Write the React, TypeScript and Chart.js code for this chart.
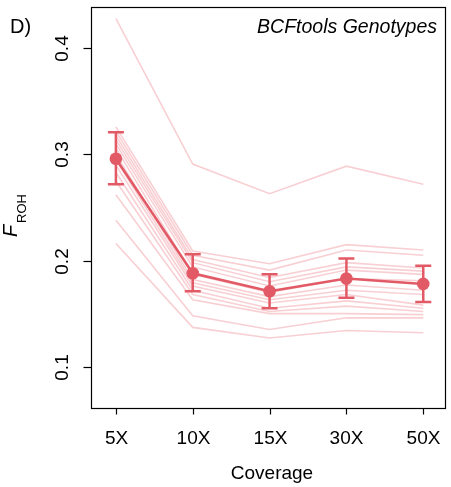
import React, { useEffect, useRef } from "react";
import { Chart, registerables } from "chart.js";

Chart.register(...registerables);

const coverageLabels = ["5X", "10X", "15X", "30X", "50X"];
const yTickValues = [0.1, 0.2, 0.3, 0.4];

const meanFroh = [0.296, 0.188, 0.171, 0.183, 0.178];
const errLower = [0.272, 0.171, 0.155, 0.165, 0.161];
const errUpper = [0.321, 0.206, 0.187, 0.202, 0.195];

const ind01 = [0.428, 0.291, 0.263, 0.289, 0.272];
const ind02 = [0.326, 0.209, 0.197, 0.215, 0.21];
const ind03 = [0.322, 0.205, 0.191, 0.21, 0.205];
const ind04 = [0.318, 0.201, 0.184, 0.198, 0.193];
const ind05 = [0.314, 0.198, 0.18, 0.194, 0.19];
const ind06 = [0.31, 0.194, 0.176, 0.191, 0.187];
const ind07 = [0.306, 0.187, 0.17, 0.183, 0.181];
const ind08 = [0.3, 0.182, 0.166, 0.177, 0.172];
const ind09 = [0.295, 0.179, 0.163, 0.172, 0.168];
const ind10 = [0.29, 0.176, 0.16, 0.168, 0.158];
const ind11 = [0.283, 0.172, 0.155, 0.162, 0.155];
const ind12 = [0.275, 0.168, 0.152, 0.157, 0.152];
const ind13 = [0.262, 0.163, 0.15, 0.15, 0.149];
const ind14 = [0.238, 0.148, 0.135, 0.146, 0.146];
const ind15 = [0.216, 0.137, 0.127, 0.134, 0.132];

const individuals = [ind01, ind02, ind03, ind04, ind05, ind06, ind07, ind08, ind09, ind10, ind11, ind12, ind13, ind14, ind15];

const MAIN = "#E25A66";
const THIN = "rgba(236, 128, 140, 0.38)";
const FONT = "'Liberation Sans', Arial, Helvetica, sans-serif";

const decor = {
  id: "decor",
  afterDatasetsDraw(chart: any) {
    const { ctx, scales } = chart;
    const xs = scales.x;
    const ys = scales.y;
    ctx.save();
    ctx.strokeStyle = MAIN;
    ctx.lineWidth = 2.5;
    for (let i = 0; i < meanFroh.length; i++) {
      const px = xs.getPixelForValue(i);
      const lo = ys.getPixelForValue(errLower[i]);
      const hi = ys.getPixelForValue(errUpper[i]);
      ctx.beginPath();
      ctx.moveTo(px, lo);
      ctx.lineTo(px, hi);
      ctx.moveTo(px - 8, lo);
      ctx.lineTo(px + 8, lo);
      ctx.moveTo(px - 8, hi);
      ctx.lineTo(px + 8, hi);
      ctx.stroke();
    }
    ctx.restore();
  },
  afterDraw(chart: any) {
    const { ctx, chartArea, scales } = chart;
    const xs = scales.x;
    const ys = scales.y;
    ctx.save();
    // box
    ctx.strokeStyle = "#000";
    ctx.lineWidth = 1.2;
    ctx.strokeRect(
      Math.round(chartArea.left) + 0.5,
      Math.round(chartArea.top) + 0.5,
      Math.round(chartArea.right - chartArea.left),
      Math.round(chartArea.bottom - chartArea.top)
    );
    const bottom = Math.round(chartArea.bottom) + 0.5;
    const left = Math.round(chartArea.left) + 0.5;
    // x ticks and labels
    ctx.fillStyle = "#000";
    ctx.font = `19px ${FONT}`;
    ctx.textAlign = "center";
    ctx.textBaseline = "alphabetic";
    coverageLabels.forEach((lab, i) => {
      const px = Math.round(xs.getPixelForValue(i)) + 0.5;
      ctx.beginPath();
      ctx.moveTo(px, bottom);
      ctx.lineTo(px, bottom + 6);
      ctx.stroke();
      ctx.fillText(lab, px, 444);
    });
    // y ticks and labels
    yTickValues.forEach((v) => {
      const py = Math.round(ys.getPixelForValue(v)) + 0.5;
      ctx.beginPath();
      ctx.moveTo(left, py);
      ctx.lineTo(left - 8, py);
      ctx.stroke();
      ctx.save();
      ctx.translate(68, py);
      ctx.rotate(-Math.PI / 2);
      ctx.textAlign = "center";
      ctx.fillText(v.toFixed(1), 0, 0);
      ctx.restore();
    });
    // x title
    ctx.textAlign = "center";
    ctx.font = `19px ${FONT}`;
    ctx.fillText("Coverage", 272, 479);
    // y title F_ROH
    ctx.save();
    ctx.translate(17, 237);
    ctx.rotate(-Math.PI / 2);
    ctx.textAlign = "left";
    ctx.font = `italic 20px ${FONT}`;
    ctx.fillText("F", 0, 0);
    ctx.font = `13px ${FONT}`;
    ctx.fillText("ROH", 14, 9);
    ctx.restore();
    // panel label
    ctx.textAlign = "left";
    ctx.font = `20px ${FONT}`;
    ctx.fillText("D)", 10, 33);
    // inset title
    ctx.textAlign = "right";
    ctx.font = `italic 19.5px ${FONT}`;
    ctx.fillText("BCFtools Genotypes", 437, 32.5);
    ctx.restore();
  },
};

export default function App() {
  const ref = useRef<HTMLCanvasElement | null>(null);
  useEffect(() => {
    if (!ref.current) return;
    const thinSets = individuals.map((arr, k) => ({
      label: `ind${k + 1}`,
      data: arr.map((v, i) => ({ x: i, y: v })),
      borderColor: THIN,
      borderWidth: 1.6,
      pointRadius: 0,
      fill: false,
      tension: 0,
      order: 2,
    }));
    const chart = new Chart(ref.current, {
      type: "line",
      data: {
        datasets: [
          ...thinSets,
          {
            label: "mean",
            data: meanFroh.map((v, i) => ({ x: i, y: v })),
            borderColor: MAIN,
            backgroundColor: MAIN,
            borderWidth: 2.5,
            pointRadius: 6.3,
            pointBorderWidth: 0,
            pointBackgroundColor: MAIN,
            fill: false,
            tension: 0,
            order: 1,
          },
        ],
      },
      options: {
        responsive: false,
        animation: false,
        devicePixelRatio: 1,
        layout: { padding: { top: 7, right: 1, left: 0, bottom: 0 } },
        plugins: {
          legend: { display: false },
          tooltip: { enabled: false },
          title: { display: false },
        },
        scales: {
          x: {
            type: "linear",
            min: -0.324,
            max: 4.279,
            grid: { display: false },
            border: { display: false },
            ticks: { display: false },
            afterFit: (s: any) => {
              s.height = 79;
            },
          },
          y: {
            type: "linear",
            min: 0.061,
            max: 0.439,
            grid: { display: false },
            border: { display: false },
            ticks: { display: false },
            afterFit: (s: any) => {
              s.width = 91;
            },
          },
        },
      },
      plugins: [decor],
    });
    return () => chart.destroy();
  }, []);
  return (
    <div style={{ position: "fixed", left: 0, top: 0, width: 451, height: 487, background: "#fff" }}>
      <canvas ref={ref} width={451} height={487} style={{ width: 451, height: 487, display: "block" }} />
    </div>
  );
}
